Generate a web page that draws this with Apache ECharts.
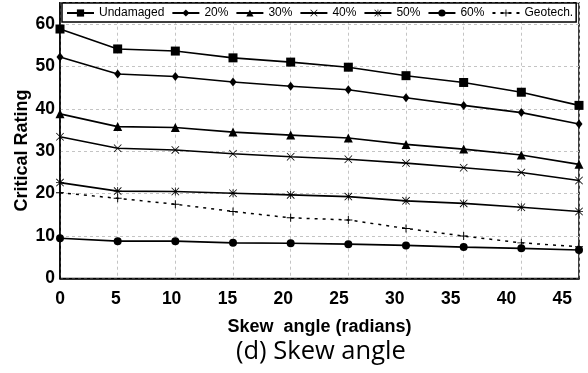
<!DOCTYPE html>
<html>
<head>
<meta charset="utf-8">
<script src="https://cdn.jsdelivr.net/npm/echarts@6/dist/echarts.min.js"></script>
<style>
  html, body { margin: 0; padding: 0; background: #fff; }
  #main { width: 588px; height: 373px; }
</style>
</head>
<body>
<div id="main"></div>
<script>
// skew angle values on the x axis
var skewAngles = [0, 5, 10, 15, 20, 25, 30, 35, 40, 45];

// critical rating for each damage level
var undamaged = [58.8, 54.1, 53.6, 52.0, 51.0, 49.8, 47.8, 46.2, 43.9, 40.8];
var dmg20 = [52.2, 48.2, 47.6, 46.3, 45.3, 44.5, 42.6, 40.8, 39.1, 36.4];
var dmg30 = [38.8, 35.8, 35.6, 34.5, 33.8, 33.1, 31.6, 30.5, 29.1, 26.9];
var dmg40 = [33.4, 30.7, 30.3, 29.4, 28.7, 28.1, 27.2, 26.1, 25.0, 23.1];
var dmg50 = [22.6, 20.6, 20.5, 20.1, 19.7, 19.3, 18.3, 17.7, 16.8, 15.8];
var dmg60 = [9.5, 8.8, 8.8, 8.4, 8.3, 8.1, 7.8, 7.4, 7.1, 6.7];
var geotech = [20.2, 18.9, 17.5, 15.8, 14.3, 13.8, 11.8, 10.0, 8.4, 7.5];

var seriesNames = ['Undamaged', '20%', '30%', '40%', '50%', '60%', 'Geotech.'];

// marker shapes
var xMark = 'path://M0.7,0L10,9.3L9.3,10L0,0.7Z M9.3,0L10,0.7L0.7,10L0,9.3Z';
var starMark = 'path://M4.5,0H5.5V10H4.5Z M0,4.5H10V5.5H0Z M0.7,0L10,9.3L9.3,10L0,0.7Z M9.3,0L10,0.7L0.7,10L0,9.3Z';
var plusMark = 'path://M4.4,0H5.6V4.4H10V5.6H5.6V10H4.4V5.6H0V4.4H4.4Z';

function pairs(ys) {
  return skewAngles.map(function (x, i) { return [x, ys[i]]; });
}

function makeLine(name, ys, symbol, size, dashed) {
  return {
    name: name,
    type: 'line',
    data: pairs(ys),
    symbol: symbol,
    symbolSize: size,
    showAllSymbol: true,
    itemStyle: { color: '#000', borderWidth: 0 },
    lineStyle: { color: '#000', width: dashed ? 1.5 : 1.6, type: dashed ? [3, 5] : 'solid' }
  };
}

var chart = echarts.init(document.getElementById('main'), null, { renderer: 'canvas' });

var option = {
  animation: false,
  backgroundColor: '#fff',
  grid: { left: 60, right: 9, top: 2.7, bottom: 94.5, show: true, borderColor: '#000', borderWidth: 1.5 },
  legend: {
    data: seriesNames,
    left: 62,
    top: 3,
    width: 516,
    padding: [4, 3, 3, 4],
    itemWidth: 27,
    itemHeight: 9,
    itemGap: 7,
    selectedMode: false,
    backgroundColor: '#fff',
    borderColor: '#000',
    borderWidth: 1.5,
    textStyle: { color: '#000', fontFamily: 'Liberation Sans, Arial', fontSize: 12 }
  },
  xAxis: [
    {
      type: 'value',
      min: 0,
      max: 45,
      interval: 5,
      name: 'Skew  angle (radians)',
      nameLocation: 'middle',
      nameGap: 40,
      nameMoveOverlap: false,
      nameTextStyle: { color: '#000', fontFamily: 'Liberation Sans, Arial', fontWeight: 'bold', fontSize: 18 },
      axisLine: { lineStyle: { color: '#000', width: 1.5 } },
      axisTick: { show: false },
      axisLabel: { show: false },
      splitLine: { lineStyle: { color: '#c4c4c4', type: [3, 3], width: 1 } }
    },
    {
      // tick labels sit on a slightly tighter spacing than the gridlines
      type: 'value',
      position: 'bottom',
      min: 0,
      max: 46.5,
      interval: 5,
      axisLine: { show: false },
      axisTick: { show: false },
      splitLine: { show: false },
      axisLabel: {
        showMaxLabel: false,
        margin: 12,
        color: '#000',
        fontFamily: 'Liberation Sans, Arial',
        fontWeight: 'bold',
        fontSize: 17.5
      }
    }
  ],
  yAxis: {
    type: 'value',
    min: 0,
    max: 65,
    interval: 10,
    name: 'Critical Rating',
    nameLocation: 'middle',
    nameGap: 29,
    nameMoveOverlap: false,
    nameTextStyle: {
      color: '#000', fontFamily: 'Liberation Sans, Arial', fontWeight: 'bold', fontSize: 18,
      padding: [0, 20, 0, 0]
    },
    axisLine: { show: true, lineStyle: { color: '#000', width: 1.5 } },
    axisTick: { show: false },
    axisLabel: {
      showMaxLabel: false,
      margin: 5,
      color: '#000',
      fontFamily: 'Liberation Sans, Arial',
      fontWeight: 'bold',
      fontSize: 17.5
    },
    splitLine: { lineStyle: { color: '#c4c4c4', type: [3, 3], width: 1 } }
  },
  title: {
    text: '(d) Skew angle',
    left: 236,
    top: 339,
    padding: 0,
    textStyle: { color: '#000', fontFamily: 'Open Sans', fontWeight: 'normal', fontSize: 25.5 }
  },
  series: [
    makeLine('Undamaged', undamaged, 'rect', 9),
    makeLine('20%', dmg20, 'diamond', [7, 9]),
    makeLine('30%', dmg30, 'triangle', 9),
    makeLine('40%', dmg40, xMark, 8),
    makeLine('50%', dmg50, starMark, 8),
    makeLine('60%', dmg60, 'circle', 8),
    makeLine('Geotech.', geotech, plusMark, 8, true)
  ]
};

chart.setOption(option);
</script>
</body>
</html>
